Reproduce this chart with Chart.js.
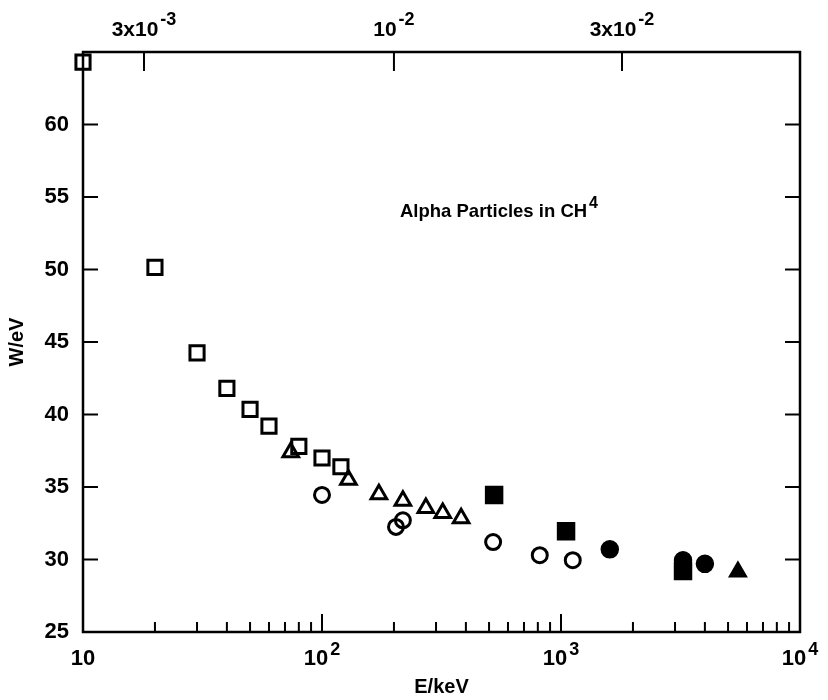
<!DOCTYPE html>
<html>
<head>
<meta charset="utf-8">
<script src="https://cdn.jsdelivr.net/npm/chart.js@4"></script>
<style>
  body { margin: 0; background: #fff; }
  #wrap { width: 828px; height: 700px; }
</style>
</head>
<body>
<div id="wrap"><canvas id="chart" width="828" height="700"></canvas></div>
<script>
// data (E in keV, W in eV)
var openSqE = [10, 20, 30, 40, 50, 60, 80, 100, 120];
var openSqW = [64.3, 50.15, 44.25, 41.8, 40.35, 39.2, 37.8, 37.0, 36.4];
var openTriE = [74, 129, 173, 218, 272, 320, 382];
var openTriW = [37.4, 35.5, 34.5, 34.05, 33.55, 33.2, 32.85];
var openCircE = [100, 204, 218, 520, 815, 1120];
var openCircW = [34.45, 32.25, 32.7, 31.2, 30.3, 29.95];
var fillSqE = [525, 1050, 3240];
var fillSqW = [34.45, 31.95, 29.2];
var fillCircE = [1600, 3240, 4000];
var fillCircW = [30.7, 29.95, 29.7];
var fillTriE = [5500];
var fillTriW = [29.15];

// tick labels
var yTicks = [25, 30, 35, 40, 45, 50, 55, 60];
var bottomTickE = [10, 100, 1000, 10000];
var bottomTickBase = ['10', '10', '10', '10'];
var bottomTickExp = ['', '2', '3', '4'];
// top axis (v/c) ticks, placed at the matching energy
var topTickE = [18, 200, 1800];
var topTickBase = ['3x10', '10', '3x10'];
var topTickExp = ['-3', '-2', '-2'];

var FONT = '"Liberation Sans", Arial, Helvetica, sans-serif';

function pts(xs, ys) {
    return xs.map(function (x, i) { return { x: x, y: ys[i] }; });
}

function drawSup(ctx, base, sup, cx, cy, baseSize, supSize, rise, align) {
    ctx.font = 'bold ' + baseSize + 'px ' + FONT;
    var wb = ctx.measureText(base).width;
    ctx.font = 'bold ' + supSize + 'px ' + FONT;
    var ws = sup ? ctx.measureText(sup).width + 2 : 0;
    var x0 = align === 'left' ? cx : cx - (wb + ws) / 2;
    ctx.textAlign = 'left';
    ctx.textBaseline = 'middle';
    ctx.font = 'bold ' + baseSize + 'px ' + FONT;
    ctx.fillText(base, x0, cy);
    if (sup) {
        ctx.font = 'bold ' + supSize + 'px ' + FONT;
        ctx.fillText(sup, x0 + wb + 2, cy - rise);
    }
}

// frame, inward ticks, log labels and the note
var framePlugin = {
    id: 'frame',
    afterDraw: function (chart) {
        var ctx = chart.ctx;
        var a = chart.chartArea;
        var xs = chart.scales.x;
        var ys = chart.scales.y;
        ctx.save();
        ctx.strokeStyle = '#000';
        ctx.fillStyle = '#000';
        ctx.lineWidth = 2.5;
        ctx.strokeRect(a.left, a.top, a.right - a.left, a.bottom - a.top);

        ctx.lineWidth = 2;
        ctx.beginPath();
        // bottom log ticks
        for (var d = 1; d < 4; d++) {
            for (var m = 1; m < 10; m++) {
                var v = m * Math.pow(10, d);
                var px = xs.getPixelForValue(v);
                var len = m === 1 ? 18 : 10;
                ctx.moveTo(px, a.bottom);
                ctx.lineTo(px, a.bottom - len);
            }
        }
        // top ticks
        topTickE.forEach(function (e) {
            var px = xs.getPixelForValue(e);
            ctx.moveTo(px, a.top);
            ctx.lineTo(px, a.top + 19);
        });
        // left and right ticks
        yTicks.forEach(function (w) {
            var py = ys.getPixelForValue(w);
            ctx.moveTo(a.left, py);
            ctx.lineTo(a.left + 15, py);
            ctx.moveTo(a.right, py);
            ctx.lineTo(a.right - 15, py);
        });
        ctx.stroke();

        bottomTickE.forEach(function (e, i) {
            drawSup(ctx, bottomTickBase[i], bottomTickExp[i], xs.getPixelForValue(e), a.bottom + 27, 22, 18, 9);
        });
        topTickE.forEach(function (e, i) {
            drawSup(ctx, topTickBase[i], topTickExp[i], xs.getPixelForValue(e), a.top - 22, 21, 18, 10);
        });

        // note inside the plot
        drawSup(ctx, 'Alpha Particles in CH', '4', xs.getPixelForValue(212), ys.getPixelForValue(54.0), 18.5, 16, 8, 'left');
        ctx.restore();
    }
};

var openStyle = {
    backgroundColor: 'rgba(0,0,0,0)',
    borderColor: '#000',
    borderWidth: 3,
    clip: false
};
var fillStyle = {
    backgroundColor: '#000',
    borderColor: '#000',
    borderWidth: 1.5,
    clip: false
};

new Chart(document.getElementById('chart'), {
    type: 'scatter',
    data: {
        datasets: [
            Object.assign({ label: 'open squares', data: pts(openSqE, openSqW), pointStyle: 'rect', pointRadius: 10 }, openStyle),
            Object.assign({ label: 'open triangles', data: pts(openTriE, openTriW), pointStyle: 'triangle', pointRadius: 9 }, openStyle),
            Object.assign({ label: 'open circles', data: pts(openCircE, openCircW), pointStyle: 'circle', pointRadius: 7.5 }, openStyle),
            Object.assign({ label: 'filled squares', data: pts(fillSqE, fillSqW), pointStyle: 'rect', pointRadius: 12 }, fillStyle),
            Object.assign({ label: 'filled circles', data: pts(fillCircE, fillCircW), pointStyle: 'circle', pointRadius: 8.5 }, fillStyle),
            Object.assign({ label: 'filled triangle', data: pts(fillTriE, fillTriW), pointStyle: 'triangle', pointRadius: 10 }, fillStyle)
        ]
    },
    options: {
        responsive: false,
        animation: false,
        devicePixelRatio: 1,
        layout: { padding: { right: 28 } },
        plugins: {
            legend: { display: false },
            tooltip: { enabled: false }
        },
        scales: {
            x: {
                type: 'logarithmic',
                position: 'bottom',
                min: 10,
                max: 10000,
                grid: { display: false, drawTicks: false },
                border: { display: false },
                ticks: { display: false },
                title: {
                    display: true,
                    text: 'E/keV',
                    color: '#000',
                    font: { family: FONT, size: 20, weight: 'bold' },
                    padding: { top: 2, bottom: 1 }
                },
                afterFit: function (s) { s.height = 68; }
            },
            x2: {
                type: 'logarithmic',
                position: 'top',
                min: 10,
                max: 10000,
                grid: { display: false, drawTicks: false },
                border: { display: false },
                ticks: { display: false },
                afterFit: function (s) { s.height = 52; }
            },
            y: {
                min: 25,
                max: 65,
                grid: { display: false, drawTicks: false },
                border: { display: false },
                afterBuildTicks: function (s) {
                    s.ticks = yTicks.map(function (v) { return { value: v }; });
                },
                ticks: {
                    color: '#000',
                    padding: 14,
                    font: { family: FONT, size: 22, weight: 'bold' }
                },
                title: {
                    display: true,
                    text: 'W/eV',
                    color: '#000',
                    font: { family: FONT, size: 20, weight: 'bold' },
                    padding: { top: 5, bottom: 0 }
                },
                afterFit: function (s) { s.width = 83; }
            }
        }
    },
    plugins: [framePlugin]
});
</script>
</body>
</html>
